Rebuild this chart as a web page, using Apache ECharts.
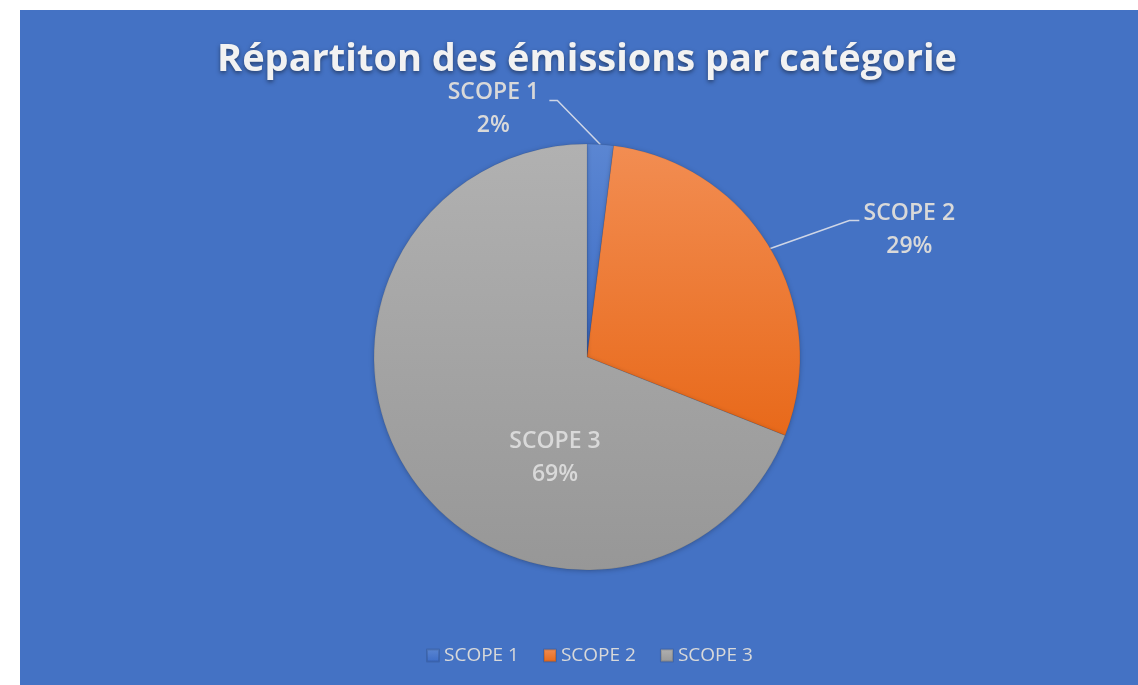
<!DOCTYPE html>
<html>
<head>
<meta charset="utf-8">
<script src="https://cdn.jsdelivr.net/npm/echarts@6/dist/echarts.min.js"></script>
<style>
  html, body { margin: 0; padding: 0; background: #ffffff; }
  #chart {
    position: absolute;
    left: 20px;
    top: 10px;
    width: 1118px;
    height: 675px;
    background: #4472c4;
  }
</style>
</head>
<body>
<div id="chart"></div>
<script>
// data
const categories = ['SCOPE 1', 'SCOPE 2', 'SCOPE 3']
const shares = [2, 29, 69]

const chartTitle = 'Répartiton des émissions par catégorie'

// pie geometry (px, inside the blue panel)
const cx = 567
const cy = 347
const R = 213

// gradient stops per slice (top -> bottom)
const sliceColors = [
    ['#5b86d2', '#3c6cc6'],
    ['#f28d52', '#e8691a'],
    ['#b1b1b1', '#979797']
]

const total = shares.reduce((a, b) => a + b, 0)

const edgePoint = (i) => {
    let before = 0
    for (let k = 0; k < i; k++) before += shares[k]
    const a = (before + shares[i] / 2) / total * Math.PI * 2
    return [cx + R * Math.sin(a), cy - R * Math.cos(a)]
}

const chart = echarts.init(document.getElementById('chart'))

const labelColor = '#d9d9d9'

const option = {
    animation: false,
    title: {
        text: chartTitle,
        left: cx - 5,
        top: 26,
        textAlign: 'center',
        textStyle: {
            fontFamily: 'Open Sans',
            fontWeight: 'bold',
            fontSize: 38,
            color: '#f2f2f2',
            textShadowColor: 'rgba(0, 0, 0, 0.45)',
            textShadowBlur: 4,
            textShadowOffsetY: 2
        }
    },
    legend: {
        data: categories,
        left: 401,
        top: 631,
        icon: 'rect',
        itemWidth: 12,
        itemHeight: 12,
        itemGap: 24,
        textStyle: {
            fontFamily: 'Open Sans',
            fontSize: 19,
            color: '#d9d9d9'
        }
    },
    series: [
        {
            type: 'pie',
            center: [cx, cy],
            radius: R,
            startAngle: 90,
            clockwise: true,
            avoidLabelOverlap: false,
            emphasis: { disabled: true },
            itemStyle: {
                borderColor: 'rgba(0, 0, 0, 0.12)',
                borderWidth: 0.6,
                shadowColor: 'rgba(0, 0, 0, 0.25)',
                shadowBlur: 5,
                shadowOffsetY: 1
            },
            label: {
                show: true,
                formatter: '{b}\n{d}%',
                fontFamily: 'Open Sans',
                fontWeight: 600,
                fontSize: 23,
                lineHeight: 33,
                color: labelColor
            },
            labelLine: {
                show: true,
                lineStyle: { color: '#cfd6e6', width: 1.5 }
            },
            labelLayout: (params) => {
                const i = params.dataIndex
                const e = edgePoint(i)
                if (i === 0) {
                    return {
                        x: e[0] - 107,
                        y: e[1] - 35,
                        align: 'center',
                        verticalAlign: 'middle',
                        labelLinePoints: [e, [e[0] - 43, e[1] - 44], [e[0] - 51, e[1] - 44]]
                    }
                }
                if (i === 1) {
                    return {
                        x: e[0] + 139,
                        y: e[1] - 19,
                        align: 'center',
                        verticalAlign: 'middle',
                        labelLinePoints: [e, [e[0] + 79, e[1] - 28], [e[0] + 89, e[1] - 28]]
                    }
                }
                return {
                    x: cx - 32,
                    y: cy + 101,
                    align: 'center',
                    verticalAlign: 'middle'
                }
            },
            data: categories.map((name, i) => ({
                name: name,
                value: shares[i],
                itemStyle: {
                    color: new echarts.graphic.LinearGradient(0, 0, 0, 1, [
                        { offset: 0, color: sliceColors[i][0] },
                        { offset: 1, color: sliceColors[i][1] }
                    ])
                },
                label: i === 2 ? { position: 'inside' } : { position: 'outside' },
                labelLine: { show: i !== 2 }
            }))
        }
    ]
}

chart.setOption(option)
</script>
</body>
</html>
